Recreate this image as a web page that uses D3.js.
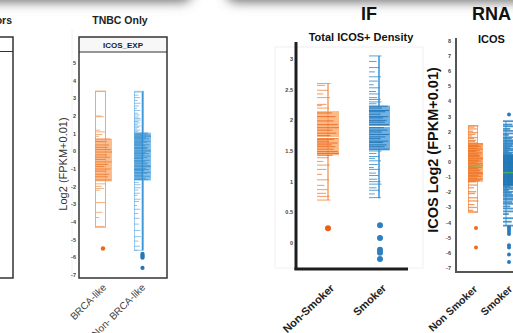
<!DOCTYPE html>
<html><head><meta charset="utf-8">
<script src="https://cdn.jsdelivr.net/npm/d3@7"></script>
<style>html,body{margin:0;padding:0;background:#fff;overflow:hidden}svg{display:block}text{font-family:"Liberation Sans",Arial,sans-serif}</style>
</head><body><svg id="c" width="513" height="333"></svg>
<script>
// ---------------- DATA ----------------
// Panel: TNBC Only / ICOS_EXP
const tnbcCategories = ["BRCA-like", "Non- BRCA-like"];
const tnbcTicks = [5, 4, 3, 2, 1, 0, -1, -2, -3, -4, -5, -6, -7];
const tnbcBrcaStats = [-4.3, -1.7, -0.3, 0.7, 3.4];      // lo, q1, median, q3, hi
const tnbcBrcaPoints = [3.4, 2.0, 1.96, 1.2, 1.1, 0.95, 0.85, 0.7, 0.55, 0.36, 0.22, 0.1, -0.04, -0.2, -0.33, -0.46, -0.6, -0.74, -0.86, -1.0, -1.12, -1.3, -1.44, -1.62, -1.84, -1.98, -2.1, -2.2, -2.9, -3.45, -3.75, -4.25];
const tnbcBrcaOutliers = [-5.5];
const tnbcNonStats = [-5.6, -1.65, -0.3, 1.05, 3.4];
const tnbcNonPoints = [3.35, 3.18, 3.04, 2.88, 2.72, 2.57, 2.44, 2.31, 2.16, 2.06, 1.94, 1.86, 1.77, 1.69, 1.61, 1.52, 1.43, 1.36, 1.27, 1.2, 1.13, 1.04, 0.97, 0.91, 0.83, 0.77, 0.71, 0.64, 0.57, 0.51, 0.43, 0.37, 0.31, 0.22, 0.16, 0.07, 0.01, -0.08, -0.13, -0.21, -0.27, -0.36, -0.41, -0.51, -0.57, -0.66, -0.71, -0.81, -0.87, -0.96, -1.03, -1.09, -1.19, -1.24, -1.35, -1.41, -1.52, -1.6, -1.76, -1.89, -2.06, -2.19, -2.37, -2.49, -2.71, -2.84, -3.07, -3.28, -3.52, -3.79, -4.12, -4.48, -4.83, -5.08, -5.37, -5.6];
const tnbcNonOutliers = [-5.8, -5.88, -5.96, -6.02, -6.6];

// Panel: IF / Total ICOS+ Density
const ifCategories = ["Non-Smoker", "Smoker"];
const ifTicks = [3, 2.5, 2, 1.5, 1, 0.5, 0];
const ifNonStats = [0.7, 1.43, 1.72, 2.15, 2.6];
const ifNonPoints = [2.6, 2.57, 2.49, 2.43, 2.37, 2.26, 2.24, 2.2, 2.12, 2.06, 1.99, 1.93, 1.88, 1.84, 1.79, 1.75, 1.71, 1.69, 1.66, 1.63, 1.6, 1.57, 1.53, 1.49, 1.46, 1.43, 1.39, 1.33, 1.27, 1.2, 1.12, 1.03, 0.94, 0.87, 0.81, 0.76, 0.7];
const ifNonOutliers = [0.24];
const ifSmokerStats = [0.73, 1.51, 1.9, 2.24, 3.05];
const ifSmokerPoints = [3.05, 2.96, 2.86, 2.79, 2.71, 2.64, 2.58, 2.53, 2.47, 2.43, 2.37, 2.34, 2.3, 2.27, 2.23, 2.2, 2.16, 2.14, 2.1, 2.06, 2.04, 2.0, 1.97, 1.93, 1.9, 1.88, 1.84, 1.81, 1.77, 1.73, 1.7, 1.66, 1.64, 1.6, 1.57, 1.53, 1.5, 1.46, 1.41, 1.38, 1.34, 1.28, 1.23, 1.2, 1.14, 1.1, 1.04, 1.0, 0.96, 0.9, 0.86, 0.8, 0.74];
const ifSmokerOutliers = [0.29, 0.08, -0.11, -0.16, -0.26];

// Panel: RNA / ICOS
const rnaCategories = ["Non Smoker", "Smoker"];
const rnaTicks = [8, 7, 6, 5, 4, 3, 2, 1, 0, -1, -2, -3, -4, -5, -6, -7];
const rnaNonStats = [-3.3, -1.3, -0.25, 1.25, 2.4];
const rnaNonPoints = [2.4, 2.31, 2.19, 2.04, 1.94, 1.83, 1.73, 1.62, 1.56, 1.43, 1.37, 1.26, 1.2, 1.09, 1.03, 0.92, 0.87, 0.76, 0.71, 0.6, 0.53, 0.44, 0.38, 0.27, 0.21, 0.11, 0.06, -0.05, -0.11, -0.21, -0.26, -0.36, -0.43, -0.53, -0.59, -0.7, -0.77, -0.87, -0.94, -1.06, -1.13, -1.24, -1.3, -1.52, -1.7, -1.96, -2.08, -2.36, -2.57, -2.81, -3.0, -3.19, -3.3];
const rnaNonOutliers = [-4.35, -5.65];
const rnaSmokerStats = [-4.2, -1.6, -0.7, 0.45, 2.7];
const rnaSmokerPoints = [2.7, 2.48, 2.36, 2.19, 2.06, 1.89, 1.79, 1.64, 1.56, 1.44, 1.37, 1.26, 1.19, 1.09, 1.03, 0.93, 0.88, 0.79, 0.73, 0.64, 0.59, 0.5, 0.45, 0.36, 0.31, 0.22, 0.17, 0.08, 0.03, -0.06, -0.11, -0.2, -0.25, -0.34, -0.39, -0.48, -0.53, -0.62, -0.67, -0.76, -0.81, -0.9, -0.95, -1.04, -1.09, -1.18, -1.23, -1.32, -1.37, -1.46, -1.51, -1.61, -1.67, -1.78, -1.85, -1.96, -2.04, -2.16, -2.25, -2.39, -2.49, -2.64, -2.76, -2.93, -3.07, -3.26, -3.44, -3.71, -3.94, -4.2];
const rnaSmokerOutliers = [3.15, -4.3, -4.45, -4.6, -4.75, -5.5, -5.65, -6.1, -6.6];

// ---------------- DRAWING ----------------
const svg = d3.select("#c");
const font = '"Liberation Sans", Arial, sans-serif';
const lenPattern = [1, 0.55, 0.82, 0.4, 0.95, 0.66, 0.3, 0.88, 0.5, 0.75, 0.62, 0.92];

// top drop shadow
const defs = svg.append("defs");
const blur = defs.append("filter").attr("id", "blur").attr("x", "-50%").attr("y", "-200%").attr("width", "200%").attr("height", "500%");
blur.append("feGaussianBlur").attr("stdDeviation", 6);
svg.append("rect").attr("x", -30).attr("y", -18).attr("width", 222).attr("height", 20).attr("rx", 10).attr("fill", "#6e6e6e").attr("filter", "url(#blur)");
svg.append("rect").attr("x", 226).attr("y", -18).attr("width", 320).attr("height", 20).attr("rx", 10).attr("fill", "#6e6e6e").attr("filter", "url(#blur)");

function drawGroup(g, y, x0, pts, stats, outl, st) {
  const [lo, q1, med, q3, hi] = stats;
  g.append("rect").attr("x", x0).attr("y", y(q3)).attr("width", st.boxW)
    .attr("height", y(q1) - y(q3)).attr("fill", st.fill).attr("fill-opacity", st.fillOp || 0.9);
  if (st.outline) {
    g.append("rect").attr("x", x0 + 0.5).attr("y", y(hi)).attr("width", st.whW)
      .attr("height", y(lo) - y(hi)).attr("fill", "none").attr("stroke", st.outline).attr("stroke-width", st.outlineW || 1);
  }
  if (st.vline) {
    g.append("line").attr("x1", x0 + st.vline.dx).attr("x2", x0 + st.vline.dx)
      .attr("y1", y(hi)).attr("y2", y(lo)).attr("stroke", st.vline.color).attr("stroke-width", st.vline.w);
  }
  pts.forEach((v, i) => {
    const inBox = v <= q3 && v >= q1;
    const f = lenPattern[i % lenPattern.length];
    const len = inBox ? st.boxW * (0.35 + 0.65 * f) : st.whW * st.ext * f + 1.5;
    g.append("line").attr("x1", x0).attr("x2", x0 + len).attr("y1", y(v)).attr("y2", y(v))
      .attr("stroke", inBox ? st.line : st.lineOut).attr("stroke-width", st.lineW || 1)
      .attr("stroke-opacity", st.lineOp || 0.85);
  });
  if (st.median) {
    g.append("line").attr("x1", x0).attr("x2", x0 + st.boxW).attr("y1", y(med)).attr("y2", y(med))
      .attr("stroke", st.median).attr("stroke-width", st.medianW || 1);
  }
  outl.forEach(v => {
    g.append("circle").attr("cx", x0 + st.dotDx).attr("cy", y(v)).attr("r", st.dotR).attr("fill", st.dot);
  });
}

function yTickLabels(g, y, ticks, x, fmt) {
  g.selectAll(null).data(ticks).enter().append("text")
    .attr("x", x).attr("y", d => y(d)).attr("dy", "0.35em").attr("text-anchor", "end")
    .attr("font-size", 5.5).attr("font-weight", "bold").attr("fill", "#444").attr("font-family", font)
    .text(fmt || (d => d));
}

function xLabels(g, xs, cats, off, yb, size, weight, color, ang) {
  cats.forEach(c => {
    const x = xs(c) + off;
    g.append("text").attr("transform", `translate(${x},${yb}) rotate(${ang})`)
      .attr("text-anchor", "end").attr("font-size", size).attr("font-weight", weight)
      .attr("fill", color).attr("font-family", font).text(c);
  });
}

// ---- Titles
svg.append("text").attr("x", 12).attr("y", 24).attr("text-anchor", "end").attr("font-size", 10.5).attr("font-weight", "bold").attr("fill", "#222").text("Tumors");
svg.append("text").attr("x", 120).attr("y", 24).attr("text-anchor", "middle").attr("font-size", 10.5).attr("font-weight", "bold").attr("fill", "#222").text("TNBC Only");
svg.append("text").attr("x", 369).attr("y", 20).attr("text-anchor", "middle").attr("font-size", 18).attr("font-weight", "bold").attr("fill", "#111").text("IF");
svg.append("text").attr("x", 472).attr("y", 20).attr("font-size", 18).attr("font-weight", "bold").attr("fill", "#111").text("RNA");

// ---- Left partial frame
const pl = svg.append("g");
pl.append("rect").attr("x", -20).attr("y", 37).attr("width", 33).attr("height", 241).attr("fill", "none").attr("stroke", "#333").attr("stroke-width", 1.5);
pl.append("line").attr("x1", -20).attr("x2", 13).attr("y1", 51.5).attr("y2", 51.5).attr("stroke", "#333").attr("stroke-width", 1.2);

// ---- Panel TNBC
const p2 = svg.append("g");
const y2 = d3.scaleLinear().domain([-7, 5]).range([275, 63]);
const x2 = d3.scaleBand().domain(tnbcCategories).range([95, 173]);
p2.append("rect").attr("x", 79).attr("y", 37).attr("width", 88).attr("height", 15).attr("fill", "#f7f7f7");
p2.append("rect").attr("x", 79).attr("y", 37).attr("width", 88).attr("height", 241).attr("fill", "none").attr("stroke", "#333").attr("stroke-width", 1.5);
p2.append("line").attr("x1", 79).attr("x2", 167).attr("y1", 52).attr("y2", 52).attr("stroke", "#333").attr("stroke-width", 1.2);
p2.append("text").attr("x", 123).attr("y", 48).attr("text-anchor", "middle").attr("font-size", 8).attr("font-weight", "bold").attr("fill", "#222").text("ICOS_EXP");
p2.append("line").attr("x1", 72).attr("x2", 72).attr("y1", 30).attr("y2", 280).attr("stroke", "#f0f0f0");
yTickLabels(p2, y2, tnbcTicks, 76);
p2.append("text").attr("transform", "translate(67,164) rotate(-90)").attr("text-anchor", "middle").attr("font-size", 11).attr("fill", "#333").text("Log2 (FPKM+0.01)");
drawGroup(p2, y2, x2("BRCA-like"), tnbcBrcaPoints, tnbcBrcaStats, tnbcBrcaOutliers,
  {boxW: 17, whW: 10, ext: 0.9, fill: "#fbb582", outline: "#f7a86f", line: "#f07a2c", lineOut: "#f5a065", dot: "#ee6620", dotR: 2.2, dotDx: 8});
drawGroup(p2, y2, x2("Non- BRCA-like"), tnbcNonPoints, tnbcNonStats, tnbcNonOutliers,
  {boxW: 17, whW: 9, ext: 0.6, fill: "#76b8e6", outline: "#9ccbee", line: "#2a84c6", lineOut: "#5aa6dd",
   vline: {dx: 8.5, color: "#3f98da", w: 1.6}, dot: "#2377b8", dotR: 2.1, dotDx: 8.5, lineW: 0.8});
xLabels(p2, x2, tnbcCategories, 12, 288, 10, "normal", "#444", -45);

// ---- Panel IF
const p3 = svg.append("g");
const y3 = d3.scaleLinear().domain([0, 3]).range([243, 59]);
const x3 = d3.scaleBand().domain(ifCategories).range([317, 421]);
p3.append("rect").attr("x", 275).attr("y", 47).attr("width", 148).attr("height", 221).attr("fill", "none").attr("stroke", "#f0f0f0");
p3.append("text").attr("x", 361).attr("y", 41).attr("text-anchor", "middle").attr("font-size", 11).attr("font-weight", "bold").attr("fill", "#111").text("Total ICOS+ Density");
yTickLabels(p3, y3, ifTicks, 293, d => d);
drawGroup(p3, y3, x3("Non-Smoker"), ifNonPoints, ifNonStats, ifNonOutliers,
  {boxW: 22, whW: 11, ext: 1.1, fill: "#fdb27c", line: "#ec6419", lineOut: "#f28a47",
   vline: {dx: 11, color: "#f6a064", w: 1.5}, median: "#ffffff", dot: "#ea6116", dotR: 3, dotDx: 11});
drawGroup(p3, y3, x3("Smoker"), ifSmokerPoints, ifSmokerStats, ifSmokerOutliers,
  {boxW: 21, whW: 10, ext: 1.1, fill: "#5faae2", line: "#1c6fb0", lineOut: "#3a90d0",
   vline: {dx: 10, color: "#64aee4", w: 2}, median: "#ffffff", dot: "#2e7fc0", dotR: 3, dotDx: 11});
p3.append("line").attr("x1", 296).attr("x2", 296).attr("y1", 42).attr("y2", 270).attr("stroke", "#1e1e1e").attr("stroke-width", 3);
p3.append("line").attr("x1", 294.5).attr("x2", 408).attr("y1", 269).attr("y2", 269).attr("stroke", "#1e1e1e").attr("stroke-width", 3);
xLabels(p3, x3, ifCategories, 18, 289, 11, "bold", "#222", -43);

// ---- Panel RNA
const p4 = svg.append("g");
const y4 = d3.scaleLinear().domain([-7, 8]).range([268, 41]);
const x4 = d3.scaleBand().domain(rnaCategories).range([468, 538]);
p4.append("text").attr("x", 478).attr("y", 43).attr("font-size", 11).attr("font-weight", "bold").attr("fill", "#111").text("ICOS");
yTickLabels(p4, y4, rnaTicks, 451);
p4.append("text").attr("transform", "translate(438,150) rotate(-90)").attr("text-anchor", "middle").attr("font-size", 14.5).attr("font-weight", "bold").attr("fill", "#111").text("ICOS Log2 (FPKM+0.01)");
drawGroup(p4, y4, x4("Non Smoker"), rnaNonPoints, rnaNonStats, rnaNonOutliers,
  {boxW: 15, whW: 9, ext: 1, fill: "#fba36a", outline: "#f8a570", line: "#ef7423", lineOut: "#f28a44", lineW: 1.3,
   median: "#7cbc43", medianW: 1.2, dot: "#ee6a1e", dotR: 2, dotDx: 8});
drawGroup(p4, y4, x4("Smoker"), rnaSmokerPoints, rnaSmokerStats, rnaSmokerOutliers,
  {boxW: 30, whW: 12, ext: 1.2, fill: "#3f93d1", line: "#1f77b4", lineOut: "#2a82c2", lineW: 1.8,
   vline: {dx: 3, color: "#7cc0ee", w: 1.5}, median: "#4db35a", medianW: 1.2, dot: "#2a7bbb", dotR: 2, dotDx: 6});
p4.append("line").attr("x1", 456).attr("x2", 456).attr("y1", 38).attr("y2", 273).attr("stroke", "#555").attr("stroke-width", 2);
p4.append("line").attr("x1", 455).attr("x2", 513).attr("y1", 272).attr("y2", 272).attr("stroke", "#555").attr("stroke-width", 2);
xLabels(p4, x4, rnaCategories, 10, 290, 10.5, "bold", "#222", -43);
</script></body></html>
